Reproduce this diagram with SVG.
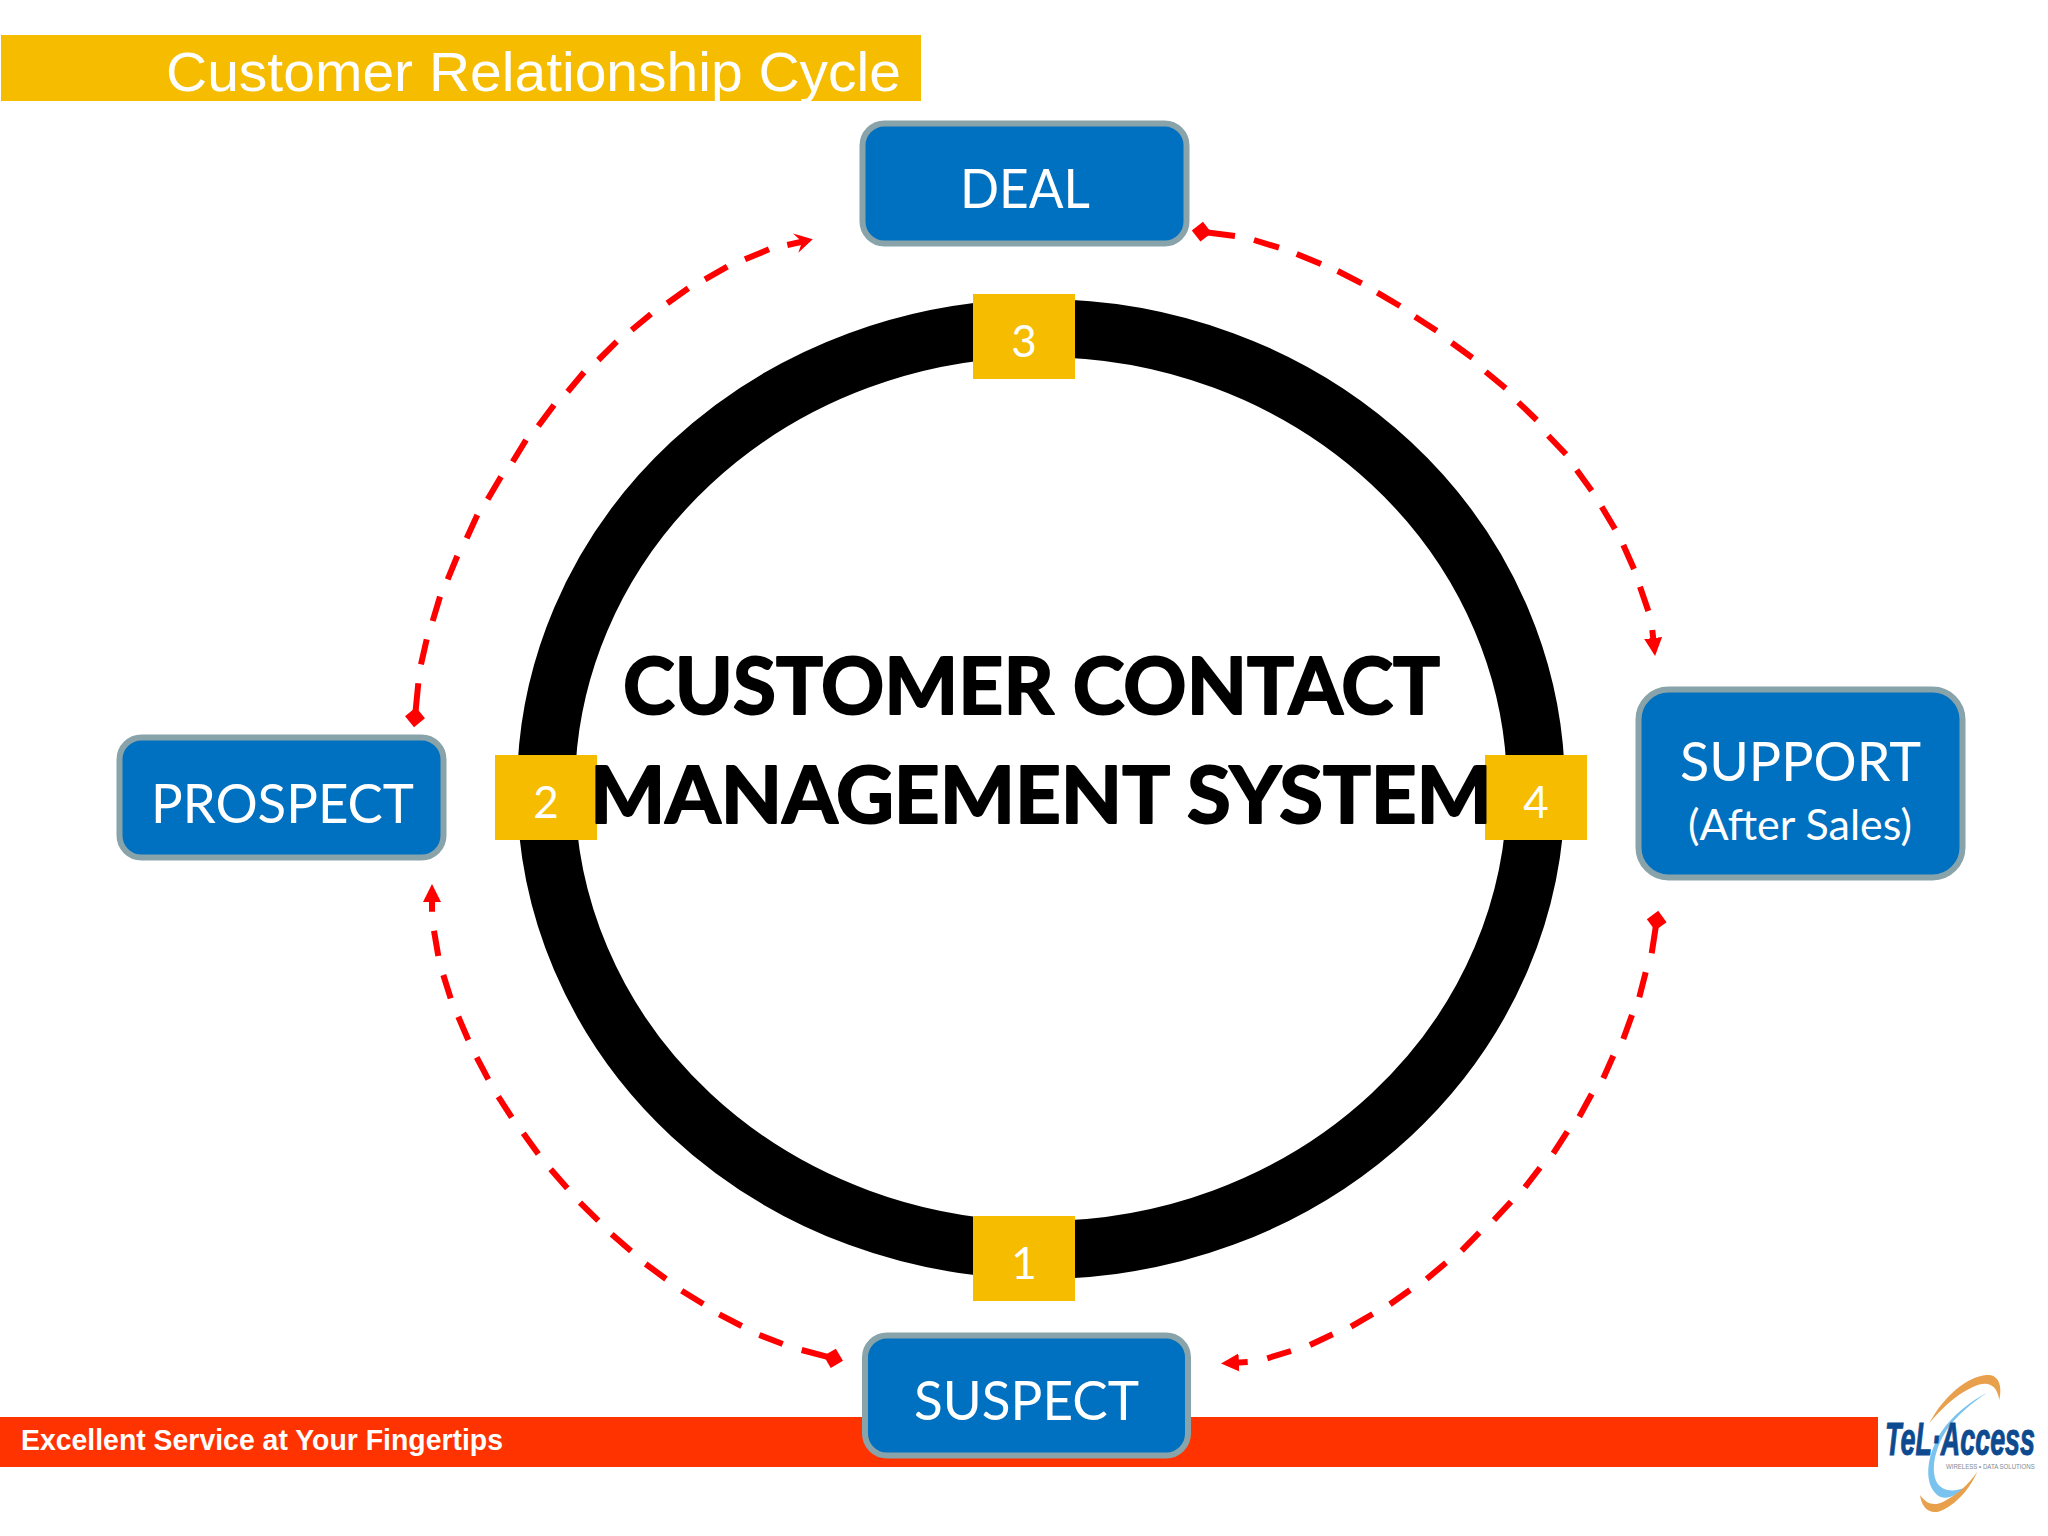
<svg xmlns="http://www.w3.org/2000/svg" width="2048" height="1536" viewBox="0 0 2048 1536">
<style>
.n{fill:#0070C0;stroke:#88A3A9;stroke-width:6}
.l{font-family:Lato,"Open Sans",sans-serif;fill:#fff}
.sq{fill:#F5BC00}
.d{font-family:Lato,"Open Sans",sans-serif;fill:#fff;font-size:44px;text-anchor:middle}
.c{font-family:Lato,"Open Sans",sans-serif;font-weight:700;fill:#000;stroke:#000;stroke-width:2;stroke-linejoin:round;font-size:78px}
.a{fill:none;stroke:#FF0000;stroke-width:6}
</style>
<defs>
<marker id="ar" markerUnits="userSpaceOnUse" markerWidth="24" markerHeight="24" refX="8" refY="10" orient="auto"><path d="M0 1L18 10L0 19Z" fill="#F00"/></marker>
<marker id="st" markerUnits="userSpaceOnUse" markerWidth="24" markerHeight="24" refX="8" refY="10" orient="auto"><path d="M0 0L18 10L1 20L7 10Z" fill="#F00"/></marker>
<marker id="di" markerUnits="userSpaceOnUse" markerWidth="24" markerHeight="24" refX="12" refY="12" orient="auto"><path d="M2 12L12 2L22 12L12 22Z" fill="#F00"/></marker>
</defs>
<rect width="2048" height="1536" fill="#fff"/>
<g id="title"><rect x="1" y="35" width="920" height="66" fill="#F5BC00"/>
<text x="166" y="91" font-family="'Liberation Sans',Arial,sans-serif" font-size="56" fill="#fff" textLength="735" lengthAdjust="spacingAndGlyphs">Customer Relationship Cycle</text></g>
<g id="footer"><rect x="0" y="1417" width="1878" height="50" fill="#FF3300"/>
<text x="21" y="1450" font-family="'Liberation Sans',Arial,sans-serif" font-weight="700" font-size="29" fill="#fff" textLength="482" lengthAdjust="spacingAndGlyphs">Excellent Service at Your Fingertips</text></g>
<g id="logo">
<g transform="translate(1840,1360) scale(.3333)">
<path d="M268 190C310 110 380 50 440 45C475 42 488 75 478 120C470 70 440 62 400 80C345 105 300 150 268 190Z" fill="#E9A04C"/>
<path d="M442 98C380 130 320 180 290 240C255 310 255 385 300 410C325 420 350 405 372 385C340 395 310 395 292 370C270 330 285 265 320 210C350 165 400 125 442 98Z" fill="#79C3EE"/>
<path d="M240 405C258 430 280 440 310 425C350 405 385 375 412 335C385 395 340 440 295 455C265 462 245 440 240 405Z" fill="#E9A04C"/>
</g>
<text transform="translate(1885,1455) scale(.585,1)" font-family="'Liberation Sans',Arial,sans-serif" font-weight="700" font-style="italic" font-size="46" fill="#0E4A8F" stroke="#0E4A8F" stroke-width="1">TeL·Access</text>
<text transform="translate(1946,1469) scale(.87,1)" font-family="'Liberation Sans',Arial,sans-serif" font-size="7" fill="#7E8A96">WIRELESS • DATA SOLUTIONS</text>
</g>
<g id="ring"><ellipse cx="1041" cy="789" rx="495" ry="461" fill="none" stroke="#000" stroke-width="58"/></g>
<g id="connectors">
<path id="c-deal-support" class="a" marker-start="url(#di)" marker-end="url(#ar)" d="M1201.7 231.7L1235 236M1254 240L1279 247.7M1296.7 254L1321 264M1337.7 271L1361.7 283.3M1377.3 292.7L1400 306M1415 316.7L1436.7 330.7M1451.7 342.7L1472.3 357.7M1485.7 371.7L1505.7 388.3M1518.3 402.3L1536.7 420M1548.3 435.7L1566 454.3M1576.7 470L1591.7 490.7M1601.7 506.7L1615 529M1623.3 545L1634 569M1640 586.7L1648.3 611M1652.3 630L1654 646"/>
<path id="c-support-suspect" class="a" marker-start="url(#di)" marker-end="url(#ar)" d="M1656.7 920.7L1651.7 953.3M1645.7 972.3L1639.3 997.3M1632 1015L1623.3 1039M1613.3 1055.7L1603.3 1078.3M1591.7 1094L1579.3 1116.7M1567.3 1131.7L1553.3 1153.3M1540 1167.7L1525 1187.3M1511 1201.7L1494 1220M1479.3 1232.7L1461.7 1250.7M1446 1262.7L1426.7 1279M1410 1290L1390 1304.3M1372.7 1314L1351 1326.7M1332.7 1334.3L1310 1345M1291 1351L1267.3 1358.3M1247.7 1362L1231 1363"/>
<path id="c-suspect-prospect" class="a" marker-start="url(#di)" marker-end="url(#ar)" d="M833.3 1358.3L801.7 1350M782.7 1344L759.3 1335M741.7 1326L719.3 1314.3M703.3 1304L681.7 1290.7M666 1279L645.7 1264M631 1251L611.7 1234.3M598.3 1220.7L580 1202.7M567.3 1188.3L550.7 1169.3M538.3 1154L523.3 1133.3M511.7 1117.3L498.3 1096.7M488.3 1079.3L476.7 1057.3M468.3 1040L458.3 1016.7M450.7 998.3L443.3 975M438.3 956L434 930.7M432 911.7L432 894"/>
<path id="c-prospect-deal" class="a" marker-start="url(#di)" marker-end="url(#st)" d="M415 717.3L418.3 683.3M421 664.3L426.7 639.3M432.7 621L440 596.7M447.7 579.3L457.3 556M466.7 538.3L477.3 515M487.7 499.3L501 476.7M512.7 461.7L526 440M538.3 426L554 405M567.7 391.7L584 372.3M598.3 360L616.7 341.7M631.7 330L651 314M667.3 303.3L688.3 288.3M705 279.3L727.3 266.7M745 259.3L769 249.3M787.3 245L803 241.5"/>
</g>
<g id="deal"><rect class="n" x="862.5" y="123.5" width="324" height="120" rx="22"/><text class="l" x="960" y="208" font-size="54" textLength="130" lengthAdjust="spacingAndGlyphs">DEAL</text></g>
<g id="prospect"><rect class="n" x="119.5" y="737.5" width="324" height="120" rx="22"/><text class="l" x="151" y="823" font-size="54" textLength="263" lengthAdjust="spacingAndGlyphs">PROSPECT</text></g>
<g id="suspect"><rect class="n" x="865" y="1335.5" width="323" height="120" rx="22"/><text class="l" x="914" y="1420" font-size="54" textLength="225" lengthAdjust="spacingAndGlyphs">SUSPECT</text></g>
<g id="support"><rect class="n" x="1638.5" y="689.5" width="324" height="188" rx="30"/><text class="l" x="1680" y="781" font-size="54" textLength="241" lengthAdjust="spacingAndGlyphs">SUPPORT</text><text class="l" x="1688" y="840" font-size="42" textLength="224" lengthAdjust="spacingAndGlyphs">(After Sales)</text></g>
<g id="step3"><rect class="sq" x="973" y="294" width="102" height="85"/><text class="d" x="1024" y="357">3</text></g>
<g id="step1"><rect class="sq" x="973" y="1216" width="102" height="85"/><text class="d" x="1024" y="1279">1</text></g>
<g id="step2"><rect class="sq" x="495" y="755" width="102" height="85"/><text class="d" x="546" y="818">2</text></g>
<g id="step4"><rect class="sq" x="1485" y="755" width="102" height="85"/><text class="d" x="1536" y="818">4</text></g>
<g id="center"><text class="c" x="623" y="714" textLength="817" lengthAdjust="spacingAndGlyphs">CUSTOMER CONTACT</text><text class="c" x="590" y="823" textLength="902" lengthAdjust="spacingAndGlyphs">MANAGEMENT SYSTEM</text></g>
</svg>
